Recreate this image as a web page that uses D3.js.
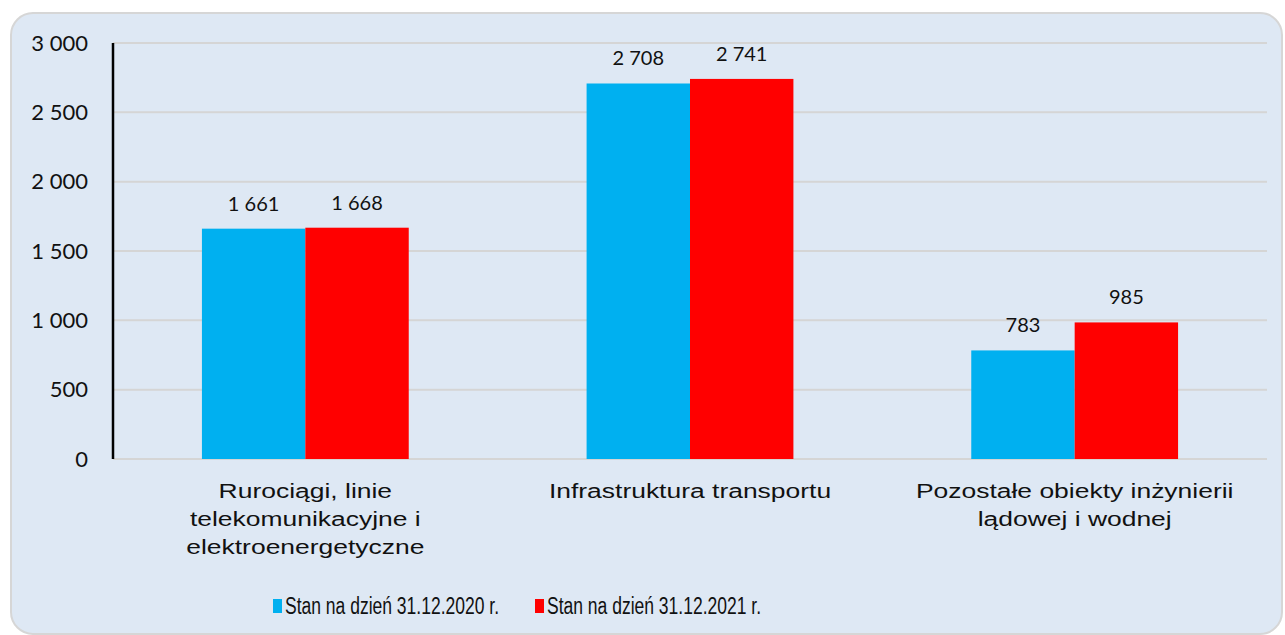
<!DOCTYPE html>
<html>
<head>
<meta charset="utf-8">
<script src="https://cdn.jsdelivr.net/npm/d3@7"></script>
<style>
  body { margin: 0; background: #fff; }
</style>
</head>
<body>
<script>
var categories = [
  ["Rurociągi, linie", "telekomunikacyjne i", "elektroenergetyczne"],
  ["Infrastruktura transportu"],
  ["Pozostałe obiekty inżynierii", "lądowej i wodnej"]
];
var seriesNames = ["Stan na dzień 31.12.2020 r.", "Stan na dzień 31.12.2021 r."];
var values2020 = [1661, 2708, 783];
var values2021 = [1668, 2741, 985];
var yTicks = [0, 500, 1000, 1500, 2000, 2500, 3000];

var width = 1285,
  height = 635,
  colors = ["#00b0f0", "#ff0000"],
  plotLeft = 113, plotRight = 1267, plotTop = 43, plotBottom = 459;

var fmt = function(d) { return d3.format(",")(d).replace(/,/g, " "); };

var svg = d3.select("body").append("svg")
  .attr("width", width)
  .attr("height", height);

// panel background
svg.append("rect")
  .attr("x", 11).attr("y", 13)
  .attr("width", 1271).attr("height", 621)
  .attr("rx", 22).attr("ry", 22)
  .attr("fill", "#dee8f4")
  .attr("stroke", "#d6d6d6")
  .attr("stroke-width", 2);

var y = d3.scaleLinear().domain([0, 3000]).range([plotBottom, plotTop]);
var x0 = d3.scaleBand().domain(d3.range(categories.length)).range([plotLeft, plotRight]);
// two bars fill ~54% of each category band
var x1 = d3.scaleBand().domain([0, 1]).range([0, x0.bandwidth()]).paddingOuter(0.86);

// gridlines
svg.append("g").selectAll("line")
  .data(yTicks)
  .enter().append("line")
  .attr("x1", plotLeft).attr("x2", plotRight)
  .attr("y1", function(d) { return y(d); })
  .attr("y2", function(d) { return y(d); })
  .attr("stroke", "#d5d5d5")
  .attr("stroke-width", 2);

// y axis
var yAxis = svg.append("g")
  .attr("transform", "translate(" + plotLeft + ",0)")
  .call(d3.axisLeft(y).tickValues(yTicks).tickSize(0).tickPadding(25).tickFormat(fmt));
yAxis.select(".domain").remove();
yAxis.selectAll("text")
  .attr("font-family", "Lato, 'Open Sans', sans-serif")
  .attr("font-size", "22px")
  .attr("fill", "#111");

svg.append("line")
  .attr("x1", plotLeft).attr("x2", plotLeft)
  .attr("y1", plotTop).attr("y2", plotBottom)
  .attr("stroke", "#000").attr("stroke-width", 2.5);

// bars
var data = [];
categories.forEach(function(c, i) {
  data.push({ cat: i, s: 0, v: values2020[i] });
  data.push({ cat: i, s: 1, v: values2021[i] });
});

svg.append("g").selectAll("rect")
  .data(data)
  .enter().append("rect")
  .attr("x", function(d) { return x0(d.cat) + x1(d.s); })
  .attr("y", function(d) { return y(d.v); })
  .attr("width", x1.bandwidth())
  .attr("height", function(d) { return y(0) - y(d.v); })
  .attr("fill", function(d) { return colors[d.s]; });

svg.append("g").selectAll("text")
  .data(data)
  .enter().append("text")
  .attr("x", function(d) { return x0(d.cat) + x1(d.s) + x1.bandwidth() / 2; })
  .attr("y", function(d) { return y(d.v) - 18; })
  .attr("text-anchor", "middle")
  .attr("font-family", "Lato, 'Open Sans', sans-serif")
  .attr("font-size", "20px")
  .attr("fill", "#111")
  .text(function(d) { return fmt(d.v); });

// category labels (stretched wide like the original)
var catG = svg.append("g").selectAll("text")
  .data(categories)
  .enter().append("text")
  .attr("transform", function(d, i) { return "translate(" + (x0(i) + x0.bandwidth() / 2) + ",0) scale(1.26,1)"; })
  .attr("text-anchor", "middle")
  .attr("font-family", "'Liberation Sans', Arial, sans-serif")
  .attr("font-size", "21px")
  .attr("fill", "#111");
catG.each(function(lines) {
  var t = d3.select(this);
  lines.forEach(function(l, j) {
    t.append("tspan")
      .attr("x", 0)
      .attr("y", 498 + j * 28)
      .text(l);
  });
});

// legend
var legendX = [273, 535];
var legend = svg.append("g").selectAll("g")
  .data(seriesNames)
  .enter().append("g")
  .attr("transform", function(d, i) { return "translate(" + legendX[i] + ",599)"; });
legend.append("rect")
  .attr("width", 9).attr("height", 14)
  .attr("fill", function(d, i) { return colors[i]; });
legend.append("text")
  .attr("x", 12).attr("y", 15)
  .attr("font-family", "'Liberation Sans Narrow', 'Liberation Sans', Arial, sans-serif")
  .attr("font-size", "23px")
  .attr("textLength", 214)
  .attr("lengthAdjust", "spacingAndGlyphs")
  .attr("fill", "#111")
  .text(function(d) { return d; });
</script>
</body>
</html>
